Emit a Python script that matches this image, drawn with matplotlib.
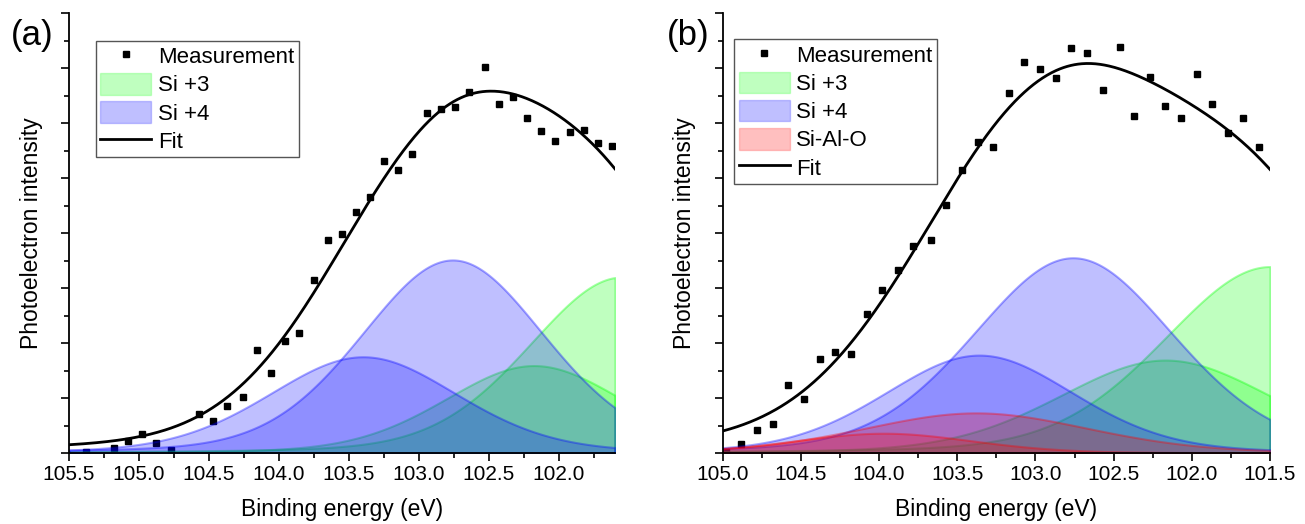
import numpy as np
import matplotlib.pyplot as plt
from matplotlib.patches import Patch
from matplotlib.lines import Line2D
from matplotlib.ticker import MultipleLocator

plt.rcParams['font.family'] = ['Liberation Sans', 'DejaVu Sans']

# measured points, panel (a)
a_energy = [105.38, 105.18, 105.08, 104.98, 104.88, 104.77, 104.57, 104.47, 104.37, 104.26,
            104.16, 104.06, 103.96, 103.86, 103.75, 103.65, 103.55, 103.45, 103.35, 103.25,
            103.15, 103.05, 102.94, 102.84, 102.74, 102.64, 102.53, 102.43, 102.33, 102.23,
            102.13, 102.03, 101.92, 101.82, 101.72, 101.62, 101.52]
a_counts = [0.02, 0.085, 0.22, 0.35, 0.18, 0.05, 0.71, 0.59, 0.86, 1.01,
            1.87, 1.45, 2.04, 2.19, 3.15, 3.87, 3.98, 4.38, 4.65, 5.31,
            5.15, 5.44, 6.19, 6.25, 6.29, 6.57, 7.02, 6.35, 6.48, 6.10,
            5.85, 5.68, 5.84, 5.87, 5.63, 5.58, 5.50]

# measured points, panel (b)
b_energy = [104.98, 104.88, 104.78, 104.68, 104.58, 104.48, 104.38, 104.28, 104.18, 104.08,
            103.98, 103.88, 103.78, 103.67, 103.57, 103.47, 103.37, 103.27, 103.17, 103.07,
            102.97, 102.87, 102.77, 102.67, 102.57, 102.46, 102.37, 102.27, 102.17, 102.07,
            101.97, 101.87, 101.77, 101.67, 101.57]
b_counts = [0.02, 0.17, 0.41, 0.52, 1.23, 0.98, 1.71, 1.83, 1.80, 2.53,
            2.97, 3.33, 3.77, 3.87, 4.51, 5.15, 5.65, 5.57, 6.55, 7.11,
            6.98, 6.81, 7.37, 7.27, 6.60, 7.38, 6.13, 6.84, 6.31, 6.10,
            6.89, 6.35, 5.82, 6.10, 5.57]

# fitted peaks: centre (eV), height, half width at half max (eV)
a_si3_center = [101.55, 102.18]
a_si3_height = [3.20, 1.59]
a_si3_hwhm = [0.795, 0.76]
a_si4_center = [102.76, 103.40]
a_si4_height = [3.51, 1.75]
a_si4_hwhm = [0.78, 0.80]

b_si3_center = [101.50, 102.17]
b_si3_height = [3.39, 1.69]
b_si3_hwhm = [0.81, 0.81]
b_si4_center = [102.76, 103.36]
b_si4_height = [3.55, 1.78]
b_si4_hwhm = [0.76, 0.72]
b_sialo_center = [103.38, 103.97]
b_sialo_height = [0.73, 0.36]
b_sialo_hwhm = [0.86, 0.68]


def pseudo_voigt(x, c, h, hw, m=0.2):
    u = ((x - c) / hw) ** 2
    return h * ((1 - m) * np.exp(-np.log(2) * u) + m / (1 + u))


def draw_panel(ax, xlim, energy, counts, groups, leg_xy):
    x = np.linspace(xlim[0], xlim[1], 600)
    fit = np.zeros_like(x)
    handles = [Line2D([], [], ls='none', marker='s', ms=4, color='black', label='Measurement')]
    for centers, heights, widths, col, name in groups:
        for c, h, w in zip(centers, heights, widths):
            y = pseudo_voigt(x, c, h, w)
            fit += y
            ax.fill_between(x, 0, y, facecolor=col + (0.25,), edgecolor=col + (0.35,),
                            lw=1.5, zorder=2)
        handles.append(Patch(facecolor=col + (0.25,), edgecolor=col + (0.2,), lw=1, label=name))
    handles.append(Line2D([], [], color='black', lw=2, label='Fit'))

    ax.plot(energy, counts, ls='none', marker='s', ms=4.5, color='black', zorder=1)
    ax.plot(x, fit, color='black', lw=2, zorder=3)

    ax.set_xlim(xlim)
    ax.set_ylim(0, 8)
    ax.xaxis.set_major_locator(MultipleLocator(0.5))
    ax.xaxis.set_minor_locator(MultipleLocator(0.25))
    ax.yaxis.set_major_locator(MultipleLocator(1))
    ax.yaxis.set_minor_locator(MultipleLocator(0.5))
    ax.set_yticklabels([])
    ax.xaxis.set_major_formatter('{x:.1f}')
    ax.tick_params(which='major', direction='out', length=6, width=1.2, labelsize=15, pad=3)
    ax.tick_params(which='minor', direction='out', length=3.5, width=1.2)
    for s in ['top', 'right']:
        ax.spines[s].set_visible(False)
    for s in ['left', 'bottom']:
        ax.spines[s].set_linewidth(1.3)
    ax.set_xlabel('Binding energy (eV)', fontsize=16.5, labelpad=10)
    ax.set_ylabel('Photoelectron intensity', fontsize=16.5, labelpad=10)

    leg = ax.legend(handles=handles, loc='upper left', bbox_to_anchor=leg_xy, borderaxespad=0,
                    fontsize=16, fancybox=False, framealpha=1, edgecolor='#555555',
                    handlelength=2.3, handleheight=1.1, handletextpad=0.3,
                    labelspacing=0.22, borderpad=0.2)
    leg.get_frame().set_linewidth(1.0)


fig = plt.figure(figsize=(13.05, 5.24), dpi=100)
ax1 = fig.add_axes([69 / 1305, 71 / 524, 546 / 1305, 440 / 524])
ax2 = fig.add_axes([722.7 / 1305, 71 / 524, 547.3 / 1305, 440 / 524])

green = (0.0, 1.0, 0.0)
blue = (0.0, 0.0, 1.0)
red = (1.0, 0.0, 0.0)

draw_panel(ax1, (105.5, 101.6), a_energy, a_counts,
           [(a_si3_center, a_si3_height, a_si3_hwhm, green, 'Si +3'),
            (a_si4_center, a_si4_height, a_si4_hwhm, blue, 'Si +4')],
           (0.049, 0.937))
draw_panel(ax2, (105.0, 101.5), b_energy, b_counts,
           [(b_si3_center, b_si3_height, b_si3_hwhm, green, 'Si +3'),
            (b_si4_center, b_si4_height, b_si4_hwhm, blue, 'Si +4'),
            (b_sialo_center, b_sialo_height, b_sialo_hwhm, red, 'Si-Al-O')],
           (0.021, 0.940))

fig.text(32 / 1305, 1 - 36 / 524, '(a)', fontsize=25, ha='center', va='center')
fig.text(688 / 1305, 1 - 35 / 524, '(b)', fontsize=25, ha='center', va='center')

fig.savefig('out.png', dpi=100)
